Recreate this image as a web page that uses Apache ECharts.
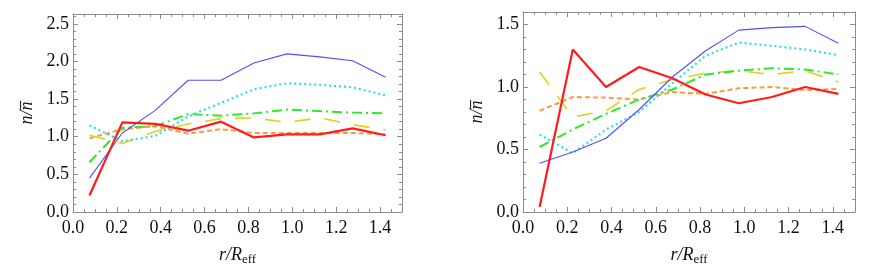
<!DOCTYPE html>
<html>
<head>
<meta charset="utf-8">
<script src="https://cdn.jsdelivr.net/npm/echarts@6/dist/echarts.min.js"></script>
<style>
html,body{margin:0;padding:0;background:#fff;}
#chart{width:872px;height:278px;}
</style>
</head>
<body>
<div id="chart"></div>
<script>
// radial bins r/R_eff
const xVals = [0.075, 0.225, 0.375, 0.525, 0.675, 0.825, 0.975, 1.125, 1.275, 1.425];
const xTicks = ['0.0','0.2','0.4','0.6','0.8','1.0','1.2','1.4'];

// left panel
const leftRed    = [0.22, 1.19, 1.17, 1.08, 1.20, 0.99, 1.03, 1.03, 1.11, 1.02];
const leftBlue   = [0.45, 1.05, 1.35, 1.75, 1.75, 1.98, 2.10, 2.06, 2.01, 1.79];
const leftCyan   = [1.15, 0.94, 1.01, 1.27, 1.45, 1.63, 1.71, 1.69, 1.655, 1.55];
const leftGreen  = [0.66, 1.12, 1.14, 1.30, 1.28, 1.31, 1.36, 1.34, 1.32, 1.31];
const leftYellow = [1.02, 0.91, 1.07, 1.17, 1.24, 1.25, 1.19, 1.25, 1.16, 1.09];
const leftOrange = [0.98, 1.10, 1.14, 1.04, 1.10, 1.05, 1.05, 1.05, 1.05, 1.03];

// right panel
const rightRed    = [0.04, 1.30, 1.00, 1.16, 1.07, 0.94, 0.87, 0.92, 1.00, 0.945];
const rightBlue   = [0.39, 0.48, 0.59, 0.82, 1.08, 1.29, 1.455, 1.475, 1.485, 1.35];
const rightCyan   = [0.62, 0.47, 0.66, 0.80, 1.03, 1.25, 1.355, 1.33, 1.30, 1.255];
const rightGreen  = [0.52, 0.66, 0.785, 0.90, 0.98, 1.10, 1.13, 1.15, 1.14, 1.10];
const rightYellow = [1.12, 0.76, 0.81, 0.98, 1.06, 1.11, 1.13, 1.10, 1.13, 1.04];
const rightOrange = [0.81, 0.92, 0.915, 0.90, 0.96, 0.945, 0.99, 1.00, 0.975, 0.985];

const FONT = '"Liberation Serif", "DejaVu Serif", serif';
const FRAME = '#8c8c8c';
const TXT = '#111111';

function pairs(ys){ return xVals.map((x,i)=>[x, ys[i]]); }

const styles = {
  orange: {color:'#ff9a3c', width:2,   type:[5,3]},
  yellow: {color:'#ddd21e', width:1.6, type:[16,14]},
  green:  {color:'#2ee82e', width:2,   type:[10,4,2,4]},
  cyan:   {color:'#2fdcea', width:2.2, type:[2,3]},
  blue:   {color:'#5050ff', width:1.1, type:'solid'},
  red:    {color:'#ff1c1c', width:2.2, type:'solid'}
};

function line(name, data, idx){
  const s = styles[name];
  return {
    type:'line', xAxisIndex: idx*2, yAxisIndex: idx*2, data: pairs(data),
    showSymbol:false, symbol:'none', silent:true, animation:false,
    lineStyle:{color:s.color, width:s.width, type:s.type, cap:'butt'},
    z: 3
  };
}

function xAxes(gridIndex){
  const base = {
    type:'value', gridIndex, min:0, max:1.5, interval:0.2,
    axisLine:{show:true, onZero:false, lineStyle:{color:FRAME, width:1}},
    axisTick:{show:true, inside:true, length:5, lineStyle:{color:FRAME}},
    minorTick:{show:true, splitNumber:4, length:3, lineStyle:{color:FRAME}},
    splitLine:{show:false}
  };
  return [
    Object.assign({}, base, {
      position:'bottom',
      axisLabel:{show:true, fontFamily:FONT, fontSize:18, color:TXT, margin:7,
        showMaxLabel:false, formatter:(v)=>{ const t = v.toFixed(1); return xTicks.indexOf(t)>=0 ? t : ''; }},
      name:'{a|r/R}{b|eff}', nameLocation:'middle', nameGap:33,
      nameTextStyle:{rich:{
        a:{fontFamily:FONT, fontSize:18, fontStyle:'italic', color:TXT},
        b:{fontFamily:FONT, fontSize:13, color:TXT, padding:[8,0,0,0]}
      }}
    }),
    Object.assign({}, base, {position:'top', axisLabel:{show:false}})
  ];
}

function yAxes(gridIndex, max){
  const base = {
    type:'value', gridIndex, min:0, max:max, interval:0.5,
    axisLine:{show:true, onZero:false, lineStyle:{color:FRAME, width:1}},
    axisTick:{show:true, inside:true, length:5, lineStyle:{color:FRAME}},
    minorTick:{show:true, splitNumber:5, length:3, lineStyle:{color:FRAME}},
    splitLine:{show:false}
  };
  return [
    Object.assign({}, base, {
      position:'left',
      axisLabel:{show:true, fontFamily:FONT, fontSize:18, color:TXT, margin:4,
        showMaxLabel:false, formatter:(v)=> (Math.abs(v*2 - Math.round(v*2))<1e-6 ? v.toFixed(1) : '')},
      name:'n/n\u0305', nameLocation:'middle', nameGap:37, nameRotate:90,
      nameTextStyle:{fontFamily:FONT, fontSize:18, fontStyle:'italic', color:TXT}
    }),
    Object.assign({}, base, {position:'right', axisLabel:{show:false}})
  ];
}

const chart = echarts.init(document.getElementById('chart'), null, {renderer:'canvas'});
chart.setOption({
  backgroundColor:'#ffffff',
  animation:false,
  grid:[
    {left:73, top:14, width:329, height:198, containLabel:false},
    {left:523, top:12, width:332, height:200, containLabel:false}
  ],
  xAxis: xAxes(0).concat(xAxes(1)),
  yAxis: yAxes(0, 2.63).concat(yAxes(1, 1.6)),
  series: [
    line('orange', leftOrange, 0),
    line('yellow', leftYellow, 0),
    line('green',  leftGreen, 0),
    line('cyan',   leftCyan, 0),
    line('blue',   leftBlue, 0),
    line('red',    leftRed, 0),
    line('orange', rightOrange, 1),
    line('yellow', rightYellow, 1),
    line('green',  rightGreen, 1),
    line('cyan',   rightCyan, 1),
    line('blue',   rightBlue, 1),
    line('red',    rightRed, 1)
  ]
});
</script>
</body>
</html>
